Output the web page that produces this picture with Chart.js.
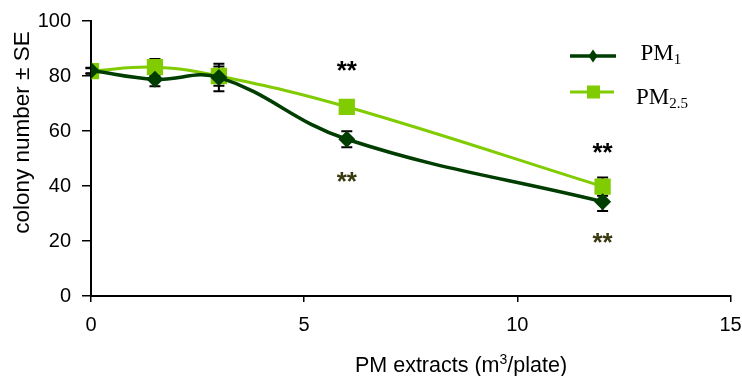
<!DOCTYPE html>
<html><head><meta charset="utf-8">
<script src="https://cdn.jsdelivr.net/npm/chart.js@4"></script>
<style>html,body{margin:0;padding:0;background:#fff}#w{width:742px;height:376px}</style>
</head><body><div id="w"><canvas id="c" width="742" height="376"></canvas></div>
<script>
const doses = [0, 1.5, 3, 6, 12];
const pm1 = [82, 78.8, 79.5, 57, 34.3];
const pm1Se = [1, 2.5, 5, 2.9, 3.4];
const pm25 = [81.8, 83.2, 80, 68.8, 39.8];
const pm25Se = [1, 3, 3.5, 1.5, 3.3];
const starDoses = [6, 12];
const starsUpper = [83.5, 53.7];
const starsLower = [43.3, 21.2];
const xTicks = [0, 5, 10, 15];
const yTicks = [0, 20, 40, 60, 80, 100];

const C1 = '#003d00', C2 = '#80cc00';
const SANS = '"Liberation Sans", Arial, sans-serif';
const SERIF = '"Liberation Serif", "Times New Roman", serif';

const errPlugin = {
  id: 'err',
  beforeDatasetsDraw(chart) {
    const ctx = chart.ctx, xs = chart.scales.x, ys = chart.scales.y;
    const sets = [[pm1, pm1Se], [pm25, pm25Se]];
    ctx.save();
    ctx.strokeStyle = '#000'; ctx.lineWidth = 2;
    sets.forEach(([v, se]) => {
      v.forEach((val, i) => {
        const x = xs.getPixelForValue(doses[i]);
        const y1 = ys.getPixelForValue(val + se[i]);
        const y2 = ys.getPixelForValue(val - se[i]);
        ctx.beginPath();
        ctx.moveTo(x, y1); ctx.lineTo(x, y2);
        ctx.moveTo(x - 5.5, y1); ctx.lineTo(x + 5.5, y1);
        ctx.moveTo(x - 5.5, y2); ctx.lineTo(x + 5.5, y2);
        ctx.stroke();
      });
    });
    ctx.restore();
  }
};
function centeredText(ctx, t, x, yc) {
  ctx.textBaseline = 'alphabetic';
  const m = ctx.measureText(t);
  const off = (m.actualBoundingBoxAscent - m.actualBoundingBoxDescent) / 2;
  ctx.fillText(t, x, yc + off);
}
const annoPlugin = {
  id: 'anno',
  afterDraw(chart) {
    const ctx = chart.ctx, xs = chart.scales.x, ys = chart.scales.y;
    ctx.save();
    ctx.font = 'bold 26px ' + SANS;
    ctx.textAlign = 'center';
    starDoses.forEach((d, i) => {
      const x = xs.getPixelForValue(d);
      ctx.fillStyle = '#000';
      centeredText(ctx, '**', x, ys.getPixelForValue(starsUpper[i]));
      ctx.fillStyle = '#3a3a12';
      centeredText(ctx, '**', x, ys.getPixelForValue(starsLower[i]));
    });
    // legend
    const items = [
      {c: C1, y: 56, sub: '1', lw: 3.5, shape: 'd', tx: 640.5, x2: 616, by: 59.5},
      {c: C2, y: 92, sub: '2.5', lw: 3, shape: 's', tx: 636, x2: 614, by: 103.5}
    ];
    items.forEach(it => {
      ctx.strokeStyle = it.c; ctx.lineWidth = it.lw;
      ctx.beginPath(); ctx.moveTo(570, it.y); ctx.lineTo(it.x2, it.y); ctx.stroke();
      ctx.fillStyle = it.c;
      if (it.shape === 'd') {
        ctx.beginPath(); ctx.moveTo(593, it.y - 6.5); ctx.lineTo(597.5, it.y); ctx.lineTo(593, it.y + 6.5); ctx.lineTo(588.5, it.y); ctx.closePath(); ctx.fill();
      } else {
        ctx.fillRect(587, it.y - 6.5, 13, 13);
      }
      ctx.fillStyle = '#000';
      ctx.textAlign = 'left'; ctx.textBaseline = 'alphabetic';
      ctx.font = '23px ' + SERIF;
      ctx.fillText('PM', it.tx, it.by);
      const w = ctx.measureText('PM').width;
      ctx.font = '15px ' + SERIF;
      ctx.fillText(it.sub, it.tx + w, it.by + 4);
    });
    // x title with superscript
    ctx.fillStyle = '#000';
    ctx.textBaseline = 'alphabetic';
    ctx.textAlign = 'left';
    const a = 'PM extracts (m', b = '3', c = '/plate)';
    ctx.font = '21.5px ' + SANS;
    const wa = ctx.measureText(a).width, wc = ctx.measureText(c).width;
    ctx.font = '14px ' + SANS;
    const wb = ctx.measureText(b).width;
    const total = wa + wb + wc;
    const x0 = 461 - total / 2;
    ctx.font = '21.5px ' + SANS;
    ctx.fillText(a, x0, 372);
    ctx.font = '14px ' + SANS;
    ctx.fillText(b, x0 + wa, 364);
    ctx.font = '21.5px ' + SANS;
    ctx.fillText(c, x0 + wa + wb, 372);
    // y title
    ctx.save();
    ctx.translate(23, 132.5);
    ctx.rotate(-Math.PI / 2);
    ctx.textAlign = 'center';
    ctx.font = '22.5px ' + SANS;
    centeredText(ctx, 'colony number ± SE', 0, 0);
    ctx.restore();
    ctx.restore();
  }
};

new Chart(document.getElementById('c'), {
  type: 'line',
  data: {
    datasets: [
      {label: 'PM1', data: doses.map((d, i) => ({x: d, y: pm1[i]})), borderColor: C1, backgroundColor: C1,
       borderWidth: 3.5, pointStyle: 'rectRot', pointRadius: 8.5, pointHoverRadius: 8.5, pointBorderWidth: 0, tension: 0.4},
      {label: 'PM2.5', data: doses.map((d, i) => ({x: d, y: pm25[i]})), borderColor: C2, backgroundColor: C2,
       borderWidth: 3, pointStyle: 'rect', pointRadius: 11.5, pointHoverRadius: 11.5, pointBorderWidth: 0, tension: 0.4}
    ]
  },
  options: {
    responsive: false, animation: false,
    layout: {padding: {left: 0, right: 11, top: 21, bottom: 0}},
    plugins: {legend: {display: false}, tooltip: {enabled: false}},
    scales: {
      x: {type: 'linear', min: 0, max: 15,
        afterBuildTicks: s => { s.ticks = xTicks.map(v => ({value: v})); },
        afterFit: s => { s.height = 80; s.paddingRight = 0; s.paddingLeft = 0; },
        grid: {display: true, drawOnChartArea: false, drawTicks: true, tickLength: 6, color: '#000', lineWidth: 1.5},
        border: {color: '#000', width: 2},
        ticks: {color: '#000', font: {family: SANS, size: 20}, padding: 11, maxRotation: 0}
      },
      y: {min: 0, max: 100,
        afterBuildTicks: s => { s.ticks = yTicks.map(v => ({value: v})); },
        afterFit: s => { s.width = 91; s.paddingTop = 0; s.paddingBottom = 0; },
        grid: {display: true, drawOnChartArea: false, drawTicks: true, tickLength: 9, color: '#000', lineWidth: 1.5},
        border: {color: '#000', width: 2},
        ticks: {color: '#000', font: {family: SANS, size: 20}, padding: 11}
      }
    }
  },
  plugins: [errPlugin, annoPlugin]
});
</script></body></html>
